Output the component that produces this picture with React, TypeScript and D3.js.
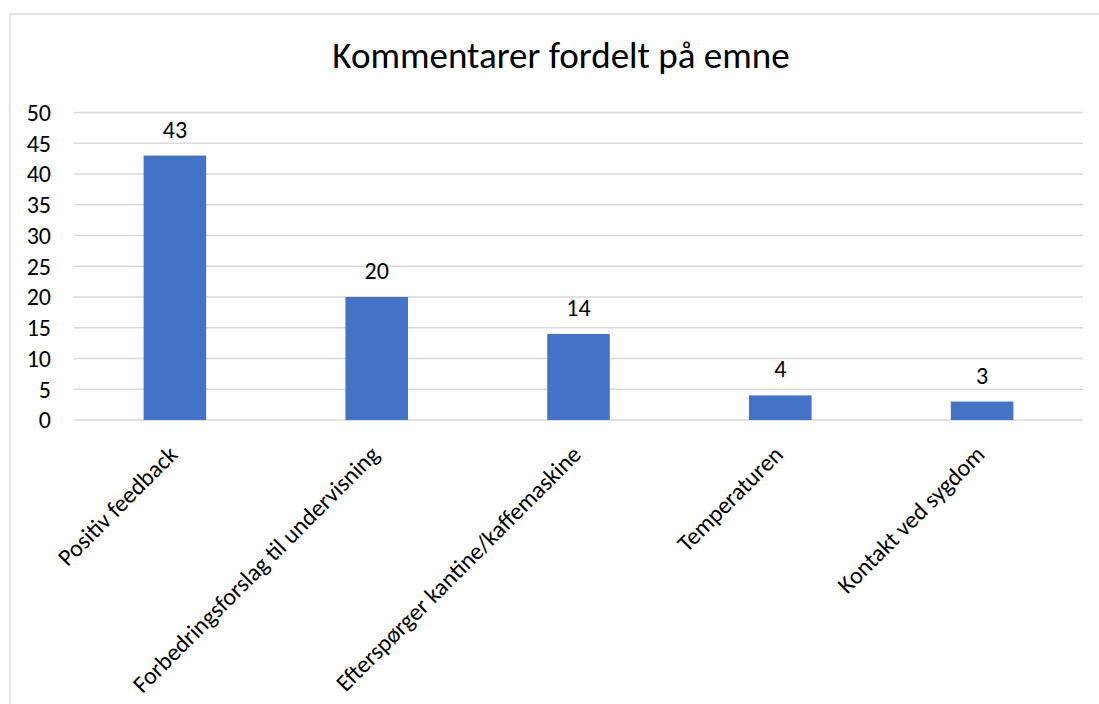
import React from "react";
import * as d3 from "d3";

const categories = [
  "Positiv feedback",
  "Forbedringsforslag til undervisning",
  "Efterspørger kantine/kaffemaskine",
  "Temperaturen",
  "Kontakt ved sygdom",
];
const values = [43, 20, 14, 4, 3];
const yTicks = [0, 5, 10, 15, 20, 25, 30, 35, 40, 45, 50];
const title = "Kommentarer fordelt på emne";

const W = 1099;
const H = 704;
const left = 74;
const right = 1083;
const top = 112.5;
const bottom = 420;
const FONT = "Carlito, Calibri, 'Open Sans', 'Noto Sans', sans-serif";

export default function App() {
  const x = d3.scaleBand<string>().domain(categories).range([left, right]).paddingInner(0.69).paddingOuter(0.345);
  const y = d3.scaleLinear().domain([0, 50]).range([bottom, top]);
  const bw = x.bandwidth();
  return (
    <svg width={W} height={H} style={{ position: "absolute", left: 0, top: 0, background: "#fff" }} fontFamily={FONT}>
      <rect x={10} y={14} width={1200} height={800} fill="#fff" stroke="#d9d9d9" strokeWidth={1.5} />
      <text x={561} y={68} textAnchor="middle" fontSize={37} fill="#000">{title}</text>
      {yTicks.map((t) => (
        <g key={t}>
          <line x1={left} x2={right} y1={y(t)} y2={y(t)} stroke="#d9d9d9" strokeWidth={1.5} />
          <text x={51} y={y(t)} dy="0.35em" textAnchor="end" fontSize={24} fill="#000">{t}</text>
        </g>
      ))}
      {categories.map((c, i) => {
        const cx = (x(c) as number) + bw / 2;
        return (
          <g key={c}>
            <rect x={x(c)} y={y(values[i])} width={bw} height={bottom - y(values[i])} fill="#4472c4" />
            <text x={cx} y={y(values[i]) - 18} textAnchor="middle" fontSize={24} fill="#000">{values[i]}</text>
            <text
              transform={`translate(${cx + 4},${bottom + 36}) rotate(-45)`}
              textAnchor="end"
              fontSize={24}
              fill="#000"
            >
              {c}
            </text>
          </g>
        );
      })}
    </svg>
  );
}
